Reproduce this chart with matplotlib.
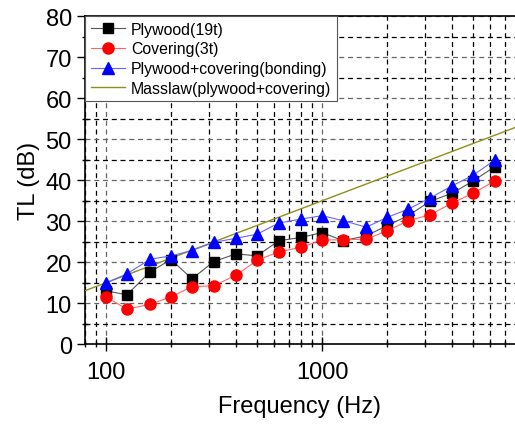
import matplotlib.pyplot as plt
from matplotlib.ticker import LogLocator, MultipleLocator, NullFormatter, FuncFormatter

plt.rcParams['font.family'] = ['Liberation Sans', 'DejaVu Sans']

freq = [100, 125, 160, 200, 250, 315, 400, 500, 630, 800, 1000,
        1250, 1600, 2000, 2500, 3150, 4000, 5000, 6300]
plywood = [13.0, 12.0, 17.6, 20.6, 15.9, 20.1, 22.0, 21.5, 25.2, 26.0, 27.2,
           25.2, 26.4, 28.9, 31.3, 34.8, 36.8, 39.8, 43.3]
covering = [11.5, 8.5, 9.7, 11.5, 14.0, 14.2, 16.8, 20.4, 22.5, 23.6, 25.4,
            25.4, 25.6, 27.6, 30.1, 31.5, 34.4, 36.8, 39.8]
bonding = [14.9, 17.1, 20.7, 21.5, 22.8, 24.8, 25.8, 26.8, 29.5, 30.5, 31.3,
           30.1, 28.5, 30.9, 32.9, 35.6, 38.6, 41.2, 44.9]
mass_f = [80, 7800]
mass_tl = [13.0, 52.8]

fig = plt.figure(figsize=(5.15, 4.27), dpi=100)
ax = fig.add_axes([0.165, 0.192, 0.835, 0.768])

ax.plot(freq, plywood, color='#555555', lw=0.8, marker='s', ms=7,
        mfc='black', mec='black', label='Plywood(19t)', zorder=4)
ax.plot(freq, covering, color='#ff6666', lw=0.8, marker='o', ms=8,
        mfc='red', mec='red', label='Covering(3t)', zorder=4)
ax.plot(freq, bonding, color='#6666ff', lw=0.8, marker='^', ms=9,
        mfc='blue', mec='blue', label='Plywood+covering(bonding)', zorder=5)
ax.plot(mass_f, mass_tl, color='#8f8f1a', lw=1.0,
        label='Masslaw(plywood+covering)', zorder=3)

ax.set_xscale('log')
ax.set_xlim(80, 7800)
ax.set_ylim(0, 80)
ax.xaxis.set_major_locator(LogLocator(base=10, subs=[1.0]))
ax.xaxis.set_major_formatter(FuncFormatter(lambda v, p: f"{v:.0f}"))
ax.xaxis.set_minor_locator(LogLocator(base=10, subs=range(2, 10)))
ax.xaxis.set_minor_formatter(NullFormatter())
ax.yaxis.set_major_locator(MultipleLocator(10))
ax.yaxis.set_minor_locator(MultipleLocator(5))

ax.grid(True, which='major', ls=(0, (4, 3)), color='#666666', lw=0.9)
ax.grid(True, which='minor', ls=(0, (4, 3)), color='black', lw=0.9)
ax.set_axisbelow(True)

ax.tick_params(axis='both', which='major', labelsize=17, direction='out',
               length=6, width=1)
ax.tick_params(axis='x', which='major', direction='inout', length=10, pad=7)
ax.tick_params(axis='both', which='minor', direction='inout', length=5, width=1)
ax.spines['right'].set_visible(False)
for s in ['left', 'bottom', 'top']:
    ax.spines[s].set_linewidth(1.2)

ax.set_xlabel('Frequency (Hz)', fontsize=17, labelpad=9)
ax.set_ylabel('TL (dB)', fontsize=17, labelpad=4)

leg = ax.legend(loc='upper left', fontsize=11.4, frameon=True, fancybox=False,
                edgecolor='#555555', framealpha=1, borderaxespad=0,
                handlelength=2.2, handletextpad=0.35, borderpad=0.35,
                labelspacing=0.3)
leg.get_frame().set_linewidth(0.8)

fig.savefig('out.png', dpi=100)
